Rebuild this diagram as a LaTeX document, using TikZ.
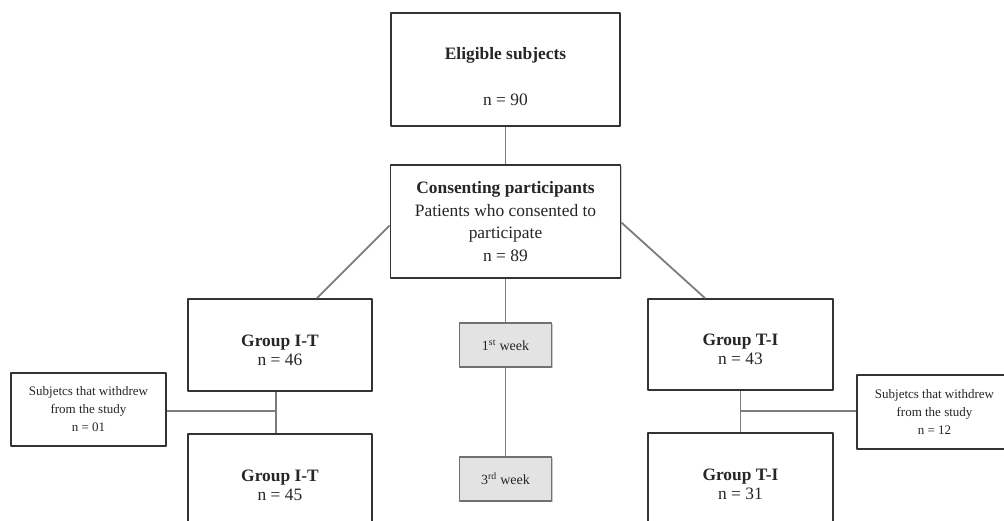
\documentclass[tikz,border=0pt]{standalone}
\usepackage{fontspec}
\setmainfont{Liberation Serif}
\usetikzlibrary{shadows}
\definecolor{boxline}{HTML}{333333}
\definecolor{linkline}{HTML}{7C7C7C}
\definecolor{weekfill}{HTML}{E3E3E3}
\tikzset{
	box/.style={draw=boxline, line width=1.7pt, fill=white, align=center, inner sep=0pt,
		drop shadow={shadow xshift=1.2pt, shadow yshift=-1.2pt, fill=black!40}},
	bigbox/.style={box, font=\fontsize{17.4}{19}\selectfont},
	smallbox/.style={box, font=\fontsize{13}{18}\selectfont},
	weekbox/.style={box, line width=1.5pt, draw=linkline!90!black, fill=weekfill, font=\fontsize{14}{16}\selectfont},
	link/.style={draw=linkline, line width=1.8pt}
}
\begin{document}
\begin{tikzpicture}[x=1pt, y=-1pt, line join=round, text=black!85]
	\useasboundingbox (0,0) rectangle (1004,521);
	\clip (0,0) rectangle (1004,521);
	\def\lift{\rule{0pt}{22pt}}
	% Boxes
	\node[bigbox, minimum width=229pt, minimum height=113pt, font=\fontsize{17.4}{23}\selectfont] (elig) at (505.5,69.5)
		{\rule{0pt}{26pt}\textbf{Eligible subjects}\\[23pt] n = 90};
	\node[bigbox, minimum width=230pt, minimum height=113pt, font=\fontsize{17.4}{22.7}\selectfont] (cons) at (505.5,221.5)
		{\textbf{Consenting participants}\\ Patients who consented to\\ participate\\ n = 89};
	\node[bigbox, minimum width=184pt, minimum height=92pt] (gIT) at (280,345) {\lift\textbf{Group I-T}\\ n = 46};
	\node[bigbox, minimum width=185pt, minimum height=91pt] (gTI) at (740.5,344.5) {\lift\textbf{Group T-I}\\ n = 43};
	\node[bigbox, minimum width=184pt, minimum height=92pt] (gITb) at (280,480) {\lift\textbf{Group I-T}\\ n = 45};
	\node[bigbox, minimum width=185pt, minimum height=92pt] (gTIb) at (740.5,479) {\lift\textbf{Group T-I}\\ n = 31};
	\node[smallbox, minimum width=155pt, minimum height=73pt] (wL) at (88.5,409.5) {Subjetcs that withdrew\\ from the study\\ n = 01};
	\node[smallbox, minimum width=155pt, minimum height=74pt] (wR) at (934.5,412) {Subjetcs that withdrew\\ from the study\\ n = 12};
	\node[weekbox, minimum width=92pt, minimum height=44pt] (w1) at (505.5,345) {1\textsuperscript{st} week};
	\node[weekbox, minimum width=92pt, minimum height=44pt] (w3) at (505.5,479) {3\textsuperscript{rd} week};
	% Joints
	\coordinate (jL) at (276,411);
	\coordinate (jR) at (740.5,411);
	% Links
	\draw[link] (elig.south) -- (cons.north);
	\draw[link] ([yshift=-4pt]cons.west) -- ([xshift=37pt]gIT.north);
	\draw[link] ([yshift=-1pt]cons.east) -- ([xshift=-35.5pt]gTI.north);
	\draw[link] (cons.south) -- (w1.north);
	\draw[link] (w1.south) -- (w3.north);
	\draw[link] (gIT.south -| jL) -- (gITb.north -| jL);
	\draw[link] (wL.east |- jL) -- (jL);
	\draw[link] (gTI.south) -- (gTIb.north);
	\draw[link] (wR.west |- jR) -- (jR);
\end{tikzpicture}
\end{document}
